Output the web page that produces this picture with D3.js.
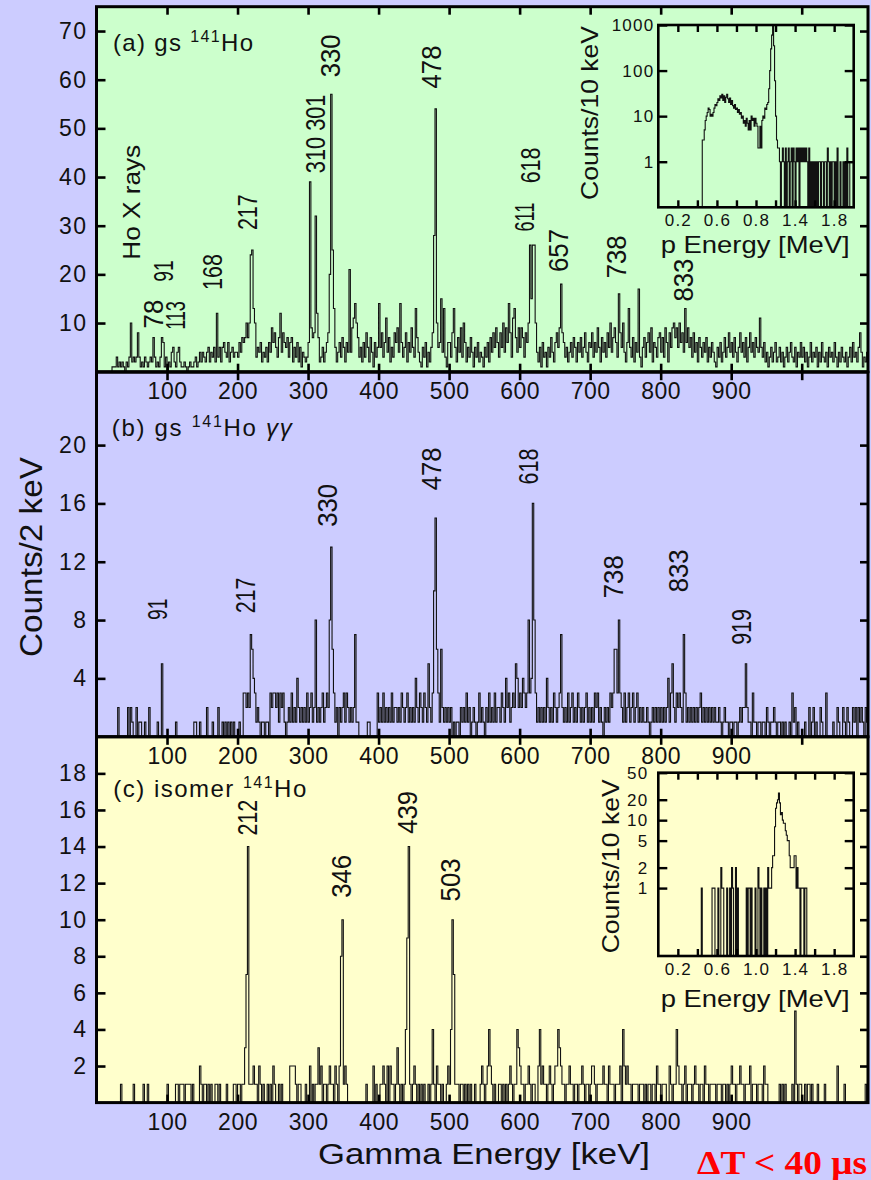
<!DOCTYPE html>
<html>
<head>
<meta charset="utf-8">
<script src="https://cdn.jsdelivr.net/npm/d3@7"></script>
<style>
  html, body { margin: 0; padding: 0; background: #ccccff; }
  svg { display: block; }
</style>
</head>
<body>
<svg id="chart" width="871" height="1180"></svg>
<script>
// ---------------------------------------------------------------
// Gamma-ray spectra, 2 keV per bin starting at 0 keV
// ---------------------------------------------------------------
const countsA = [
  // 0-98 keV
  0,0,0,0,0,0,0,0,0,0, 0,1,1,1,3,1,2,1,2,1, 0,2,1,3,10,2,3,2,3,8, 3,1,2,1,3,2,1,2,3,2, 7,3,1,2,1,3,7,6,1,3,
  // 100-198 keV
  0,2,1,4,5,2,1,4,5,2, 1,1,2,1,0,1,2,1,1,2, 3,1,2,4,2,4,3,2,4,5, 2,4,3,5,2,12,3,5,2,5, 6,4,3,6,2,4,5,3,4,4,
  // 200-298 keV
  3,6,4,7,6,7,10,7,10,24, 25,13,10,3,5,4,6,2,4,3, 5,2,6,4,9,6,8,5,3,7, 12,4,8,6,5,7,3,6,7,2, 5,3,6,2,5,1,4,3,2,3,
  // 300-398 keV
  6,39,9,7,8,32,12,7,2,3, 5,2,4,6,8,20,57,25,13,5, 2,4,6,3,7,5,2,6,4,21, 4,9,11,14,10,7,3,5,2,6, 3,8,5,2,7,4,1,6,3,5,
  // 400-498 keV
  14,5,8,3,6,11,4,7,2,5, 3,8,6,9,4,14,6,3,5,8, 2,6,4,9,5,3,13,7,4,2, 1,5,3,6,1,4,2,5,8,28, 54,10,5,6,15,4,13,3,1,6,
  // 500-598 keV
  6,3,8,13,5,2,7,4,9,3, 10,6,2,5,3,7,4,1,5,3, 6,2,4,3,1,5,3,6,2,7, 4,8,5,9,6,3,8,5,10,4, 9,6,14,8,3,11,13,7,4,9,
  // 600-698 keV
  5,9,7,3,8,6,10,26,15,26, 26,10,4,2,5,1,6,3,4,1, 5,3,7,4,2,6,8,5,9,18, 8,6,3,5,2,4,6,3,7,5, 2,6,4,7,3,5,8,4,2,6,
  // 700-798 keV
  5,8,3,6,4,9,5,2,7,4, 6,3,8,5,10,4,7,9,6,3, 16,8,5,10,4,2,6,13,5,3, 7,2,6,4,17,3,1,5,7,3, 6,8,4,9,2,6,5,3,7,8,
  // 800-898 keV
  4,7,3,9,6,2,8,5,9,10, 7,9,5,10,6,8,4,13,6,9, 5,7,3,8,4,6,2,7,5,3, 6,4,7,2,5,3,6,4,2,1, 5,3,6,2,4,7,3,5,8,4,
  // 900-998 keV
  6,3,7,4,2,5,8,4,6,3, 7,2,5,8,4,6,3,7,5,4, 11,5,3,6,2,4,1,3,5,2, 4,6,2,3,5,2,4,1,3,5, 2,4,6,3,2,5,1,4,3,6,
  // 1000-1092 keV
  3,5,2,4,1,3,6,2,4,3, 5,1,4,2,6,3,2,4,1,5, 3,4,2,6,3,1,4,2,5,3, 2,4,1,3,5,2,6,3,4,2, 5,8,4,1,3,2,4
];

const countsB = [
  0,0,0,0,0,0,0,0,0,0, 0,0,0,0,0,2,0,0,0,0, 0,0,2,0,2,1,0,0,2,0, 1,1,0,0,1,0,0,2,0,0, 0,0,0,1,0,0,5,0,0,0,
  0,0,0,0,0,0,1,0,0,0, 0,0,0,0,0,0,0,0,0,1, 1,0,0,1,0,0,0,0,2,0, 0,0,1,0,0,0,2,0,0,1, 0,1,0,1,0,1,0,1,0,0,
  0,1,0,0,3,3,2,3,2,7, 6,4,3,1,2,1,0,1,1,0, 1,1,0,3,2,3,3,2,3,1, 3,2,3,1,0,1,2,1,3,1, 2,1,4,2,1,2,1,2,1,3,
  1,2,3,1,2,8,1,2,1,2, 3,1,2,3,2,8,13,6,3,1, 2,0,2,1,2,3,1,3,2,1, 2,1,2,7,1,1,0,0,0,0, 0,0,1,1,0,0,0,0,0,3,
  1,2,1,3,1,2,1,2,1,3, 1,2,2,1,2,1,3,2,1,2, 3,1,2,1,2,1,4,2,1,3, 2,1,3,2,1,5,2,1,3,10, 15,6,3,1,6,2,1,2,1,2,
  1,2,0,1,0,1,1,0,2,1, 2,1,3,1,2,0,1,2,1,0, 1,3,1,2,1,0,2,1,3,1, 2,1,3,1,2,2,1,3,2,1, 4,2,3,1,2,3,2,5,4,2,
  3,2,4,3,2,3,8,3,4,16, 8,3,1,2,1,2,1,2,1,4, 2,1,2,1,3,2,1,2,3,7, 2,1,2,1,3,1,2,3,1,2, 1,3,2,1,2,1,2,3,1,2,
  1,2,1,3,2,3,1,2,1,0, 2,1,2,1,3,2,3,6,6,3, 8,3,2,1,3,1,2,3,1,2, 3,1,2,3,1,2,1,2,1,1, 2,1,0,1,2,1,2,1,2,1,
  2,1,2,1,2,4,1,3,5,2, 1,3,2,3,2,1,7,3,1,2, 1,2,1,2,1,2,1,2,3,1, 2,1,2,1,2,1,2,1,2,1, 1,2,1,0,1,2,1,1,0,1,
  1,0,1,1,0,1,2,1,2,2, 5,2,1,1,0,3,1,1,0,1, 1,0,1,1,0,2,1,0,1,1, 2,1,0,1,1,0,1,0,1,0, 0,1,0,3,1,2,0,1,0,0,
  0,0,1,0,0,2,0,1,2,0, 1,0,0,2,1,0,0,3,0,0, 0,0,1,0,0,2,1,0,0,2, 1,0,2,1,0,0,2,1,2,0, 2,1,2,1,0,2,1
];

const countsC = [
  0,0,0,0,0,0,0,0,0,0, 0,0,0,0,0,0,0,1,0,0, 0,0,0,0,0,0,1,0,0,0, 0,0,0,1,0,0,1,0,0,0, 0,0,0,0,0,0,0,0,0,0,
  1,0,0,0,0,0,1,1,0,1, 1,1,0,1,1,1,1,0,1,0, 0,0,0,2,1,0,1,1,0,1, 0,1,0,0,1,1,0,1,0,0, 0,0,1,0,0,0,0,1,1,0,
  1,1,0,1,1,3,7,14,1,1, 1,2,1,1,0,2,1,0,1,0, 0,1,0,1,0,2,1,0,0,1, 0,1,0,0,0,0,0,2,2,2, 2,1,0,1,1,0,0,0,1,0,
  0,2,0,1,0,1,1,3,1,2, 0,1,1,0,1,2,1,1,0,2, 1,0,2,8,10,1,2,1,0,0, 0,0,0,0,0,0,0,0,0,0, 0,1,0,0,0,0,2,0,1,0,
  0,1,1,2,1,0,2,0,2,1, 1,0,1,3,1,0,1,0,1,4, 9,14,1,0,1,2,1,0,1,0, 1,0,1,0,0,1,0,1,4,1, 0,2,1,1,0,1,0,0,1,2,
  1,4,10,7,1,1,1,0,1,1, 0,1,0,1,0,1,0,0,1,0, 0,0,1,2,1,0,1,2,4,2, 1,0,1,0,0,1,1,0,1,0, 1,0,1,2,1,0,1,1,4,3,
  2,1,1,0,1,1,2,1,0,1, 1,0,0,2,4,1,2,1,1,0, 1,2,1,0,1,2,2,4,3,2, 1,1,0,1,1,2,1,1,0,1, 1,0,1,1,2,1,0,1,1,0,
  1,2,2,1,0,1,1,1,1,2, 1,1,0,2,1,1,1,0,1,1, 1,2,0,4,2,1,2,1,1,0, 1,1,1,1,0,1,1,1,0,1, 0,1,1,0,1,1,0,2,1,1,
  0,1,1,1,0,0,2,1,0,1, 1,4,2,1,1,0,1,2,0,1, 1,1,0,1,2,1,1,0,1,1, 0,2,1,1,0,1,1,1,1,0, 1,1,1,0,1,1,0,1,0,1,
  2,1,1,0,1,1,2,1,1,0, 1,1,1,2,0,1,1,1,0,1, 1,1,0,2,1,1,0,0,0,0, 0,0,0,0,1,0,1,0,1,0, 0,0,0,1,0,5,1,0,1,1,
  0,0,1,0,1,1,0,1,0,0, 0,1,0,0,0,0,1,0,0,0, 0,0,0,0,0,2,0,0,0,0, 1,0,0,0,0,0,0,0,0,0, 0,0,0,0,0,1,0
];

// Proton spectra, 10 keV per bin starting at 0.40 MeV
const protonGs = [
  0,0,0,0,0, 3,3,5,8,10, 12,15,14,10,11, 10,12,15,18,17, 20,24,22,28,25, 30,22,28,20,26,
  30,24,20,25,18, 22,17,15,18,14, 15,12,14,11,12, 9,10,7,8,6, 9,7,5,8,5, 10,8,9,6,9,
  7,6,2,2,6, 2,8,10,9,15, 14,18,20,40,100, 300,600,1000,350,60, 10,3,2,2,1, 0,1,2,1,0,
  2,0,1,2,0, 1,2,0,2,1, 0,2,1,2,0, 2,1,2,1,2, 1,2,1,0,2, 0,1,0,1,0, 1,0,1,0,1, 1,0,1,1,0,
  1,1,0,2,1, 0,1,0,1,1, 0,1,0,2,0, 0,1,0,0,1, 0,1,0,2,0, 0,1,1,1,1
];
const protonIsomer = [
  0,0,0,0,1, 0,0,0,0,0, 0,0,0,0,0, 1,1,1,0,0, 0,1,0,0,2, 1,1,0,0,0,
  1,0,0,1,0, 2,1,0,0,2, 0,1,0,0,0, 0,0,0,0,0, 1,0,1,1,0, 1,0,0,0,1,
  0,0,2,1,0, 1,0,0,1,0, 1,0,2,1,1, 1,2,3,3,8, 15,18,20,25,18, 12,13,10,9,9,
  7,6,5,5,3, 2,2,2,2,3, 3,1,2,1,1, 0,1,1,1,0, 1,1,0,0,0, 0,0,0,0,0, 0,0,0,0,0, 0,0,0,0,0,
  0,0,0,0,0, 0,0,0,0,0, 0,0,0,0,0, 0,0,0,0,0, 0,0,0,0,0, 0,0,0,0,0
];

const gammaTicks = [100, 200, 300, 400, 500, 600, 700, 800, 900, 1000];
const gammaTickLabels = ["100", "200", "300", "400", "500", "600", "700", "800", "900", ""];
const ticksA = [10, 20, 30, 40, 50, 60, 70];
const ticksB = [4, 8, 12, 16, 20];
const ticksC = [2, 4, 6, 8, 10, 12, 14, 16, 18];
const protonTicks = [0.2, 0.4, 0.6, 0.8, 1.0, 1.2, 1.4, 1.6, 1.8];
const protonTickLabelsGs = {0.2: "0.2", 0.6: "0.6", 1.0: "0.8", 1.4: "1.4", 1.8: "1.8"};
const protonTickLabelsIso = {0.2: "0.2", 0.6: "0.6", 1.0: "1.0", 1.4: "1.4", 1.8: "1.8"};
const logTicksGs = [1, 10, 100, 1000];
const logTicksIso = [1, 2, 5, 10, 20, 50];

// Peak annotations: energy (keV) and height (counts) where the rotated text starts
const peaksA = [
  {t: "Ho X rays", e: 61.6, c: 23.0},
  {t: "78", e: 94.7, c: 8.9}, {t: "113", e: 125.4, c: 8.6}, {t: "91", e: 108.8, c: 18.5},
  {t: "168", e: 177.4, c: 16.8}, {t: "217", e: 227, c: 29.1}, {t: "310 301", e: 323.8, c: 40.8},
  {t: "330", e: 345, c: 60.5}, {t: "478", e: 489.2, c: 58.2}, {t: "618", e: 628.5, c: 38.7},
  {t: "611", e: 620, c: 28.8}, {t: "657", e: 668.6, c: 20.5}, {t: "738", e: 751.3, c: 19.2},
  {t: "833", e: 845.7, c: 14.4}
];
const peaksB = [
  {t: "91", e: 99.5, c: 8.0}, {t: "217", e: 224.6, c: 8.46}, {t: "330", e: 340.4, c: 14.4},
  {t: "478", e: 487.8, c: 16.9}, {t: "618", e: 626, c: 17.3}, {t: "738", e: 746.5, c: 9.5},
  {t: "833", e: 838.6, c: 9.9}, {t: "919", e: 928.5, c: 6.3}
];
const peaksC = [
  {t: "212", e: 227, c: 14.6}, {t: "346", e: 360.2, c: 11.2},
  {t: "439", e: 453.8, c: 14.7}, {t: "503", e: 515.1, c: 11.0}
];

// ---------------------------------------------------------------
const FONT = "'Liberation Sans', Arial, sans-serif";
const svg = d3.select("#chart");
const left = 96.5, right = 868;
const x = d3.scaleLinear().domain([0, 1094]).range([left, right]);

// advance width of a peak label; the plotting font has a narrow "1"
function labelLength(t, digit, one, other) {
  let L = 0;
  for (const ch of t) {
    if (ch === "1") L += one;
    else if (/[0-9]/.test(ch)) L += digit;
    else if (ch === " ") L += other * 0.5;
    else L += other;
  }
  return L;
}

const panels = [
  {counts: countsA, top: 6.7, bottom: 371.7, max: 75, ticks: ticksA, fill: "#ccffcc", peaks: peaksA},
  {counts: countsB, top: 372.2, bottom: 736.7, max: 25, ticks: ticksB, fill: "#ccccff", peaks: peaksB},
  {counts: countsC, top: 736.8, bottom: 1102.6, max: 20, ticks: ticksC, fill: "#ffffcc", peaks: peaksC}
];

// backgrounds first so that tick labels of one panel sit on the next
panels.forEach(p => {
  svg.append("rect").attr("x", left).attr("y", p.top)
    .attr("width", right - left).attr("height", p.bottom - p.top)
    .attr("fill", p.fill);
});

panels.forEach(p => {
  const y = d3.scaleLinear().domain([0, p.max]).range([p.bottom, p.top]);
  const pts = p.counts.map((c, i) => [i * 2, c]);
  pts.push([p.counts.length * 2, p.counts[p.counts.length - 1]]);
  const line = d3.line().x(d => x(d[0])).y(d => y(d[1])).curve(d3.curveStepAfter);
  svg.append("path").datum(pts).attr("d", line)
    .attr("fill", "none").attr("stroke", "#111").attr("stroke-width", 1.1);

  // axes
  const gl = svg.append("g").attr("transform", `translate(${left},0)`)
    .call(d3.axisLeft(y).tickValues(p.ticks).tickSize(-9).tickPadding(9).tickFormat(d3.format("d")));
  const gr = svg.append("g").attr("transform", `translate(${right},0)`)
    .call(d3.axisRight(y).tickValues(p.ticks).tickSize(-8).tickFormat(""));
  const gb = svg.append("g").attr("transform", `translate(0,${p.bottom})`)
    .call(d3.axisBottom(x).tickValues(gammaTicks).tickSize(-8).tickPadding(11)
      .tickFormat((d, i) => gammaTickLabels[i]));
  const gt = svg.append("g").attr("transform", `translate(0,${p.top})`)
    .call(d3.axisTop(x).tickValues(gammaTicks).tickSize(-8).tickFormat(""));
  [gl, gr, gb, gt].forEach(g => {
    g.select(".domain").remove();
    g.selectAll(".tick line").attr("stroke", "#000").attr("stroke-width", 2.6);
    g.selectAll("text").attr("font-family", FONT).attr("font-size", 23).attr("fill", "#111");
  });
  gl.selectAll("text").attr("letter-spacing", 1.5);
  gb.selectAll("text").attr("letter-spacing", 0.5);

  // frame
  svg.append("rect").attr("x", left).attr("y", p.top)
    .attr("width", right - left).attr("height", p.bottom - p.top)
    .attr("fill", "none").attr("stroke", "#000").attr("stroke-width", 3);

  // peak labels, rotated
  p.peaks.forEach(pk => {
    const isText = /[a-z]/i.test(pk.t);
    svg.append("text")
      .attr("transform", `translate(${x(pk.e)},${y(pk.c)}) rotate(-90)`)
      .attr("font-family", FONT).attr("font-size", isText ? 24 : 27).attr("fill", "#111")
      .attr("textLength", isText ? 115 : labelLength(pk.t, 14.3, 7.2, 14))
      .attr("lengthAdjust", "spacingAndGlyphs")
      .text(pk.t);
  });
});

// panel titles
function title(xp, yp, width, before, after, extra) {
  const t = svg.append("text").attr("x", xp).attr("y", yp)
    .attr("font-family", FONT).attr("font-size", 24).attr("fill", "#111")
    .attr("textLength", width).attr("lengthAdjust", "spacing");
  t.append("tspan").text(before);
  t.append("tspan").attr("font-size", 16).attr("dy", -9).text("141");
  t.append("tspan").attr("dy", 9).text(after);
  if (extra) t.append("tspan").attr("font-style", "italic").text(extra);
  return t;
}
title(113, 50.7, 140, "(a) gs ", "Ho");
title(111.7, 436, 180, "(b) gs ", "Ho ", "γγ");
title(113.3, 796.7, 193, "(c) isomer ", "Ho");

// axis titles
svg.append("text").attr("transform", "translate(41.7,657) rotate(-90)")
  .attr("font-family", FONT).attr("font-size", 32).attr("fill", "#111")
  .attr("textLength", 200).attr("lengthAdjust", "spacingAndGlyphs")
  .text("Counts/2 keV");
svg.append("text").attr("x", 318).attr("y", 1164)
  .attr("font-family", FONT).attr("font-size", 30).attr("fill", "#111")
  .attr("textLength", 332).attr("lengthAdjust", "spacingAndGlyphs")
  .text("Gamma Energy [keV]");
svg.append("text").attr("x", 697).attr("y", 1173.5)
  .attr("font-family", "'Liberation Serif', 'Times New Roman', serif")
  .attr("font-weight", "bold").attr("font-size", 34).attr("fill", "#ff0000")
  .attr("textLength", 170).attr("lengthAdjust", "spacingAndGlyphs")
  .text("ΔT < 40 μs");

// ---------------------------------------------------------------
// proton energy insets (log scale)
// ---------------------------------------------------------------
function inset(cfg) {
  const xi = d3.scaleLinear().domain([0, 2]).range([658.3, 853.7]);
  const yi = d3.scaleLog().domain([0.1, cfg.max]).range([cfg.bottom, cfg.top]).clamp(true);
  svg.append("rect").attr("x", 658.3).attr("y", cfg.top)
    .attr("width", 853.7 - 658.3).attr("height", cfg.bottom - cfg.top).attr("fill", cfg.fill);
  const pts = cfg.counts.map((c, i) => [0.40 + i * 0.01, c > 0 ? c : 0.1]);
  pts.push([0.40 + cfg.counts.length * 0.01, 0.1]);
  const line = d3.line().x(d => xi(d[0])).y(d => yi(d[1])).curve(d3.curveStepAfter);
  svg.append("path").datum(pts).attr("d", line)
    .attr("fill", "none").attr("stroke", "#111").attr("stroke-width", 1.1);

  const gb = svg.append("g").attr("transform", `translate(0,${cfg.bottom})`)
    .call(d3.axisBottom(xi).tickValues(protonTicks).tickSize(-7).tickPadding(7)
      .tickFormat(d => cfg.xlabels[Math.round(d * 10) / 10] || ""));
  const gt = svg.append("g").attr("transform", `translate(0,${cfg.top})`)
    .call(d3.axisTop(xi).tickValues(protonTicks).tickSize(-7).tickFormat(""));
  const gl = svg.append("g").attr("transform", "translate(658.3,0)")
    .call(d3.axisLeft(yi).tickValues(cfg.yticks).tickSize(-9).tickPadding(cfg.ypad).tickFormat(d3.format("d")));
  const gr = svg.append("g").attr("transform", "translate(853.7,0)")
    .call(d3.axisRight(yi).tickValues(cfg.yticks).tickSize(-9).tickFormat(""));
  [gb, gt, gl, gr].forEach(g => {
    g.select(".domain").remove();
    g.selectAll(".tick line").attr("stroke", "#000").attr("stroke-width", 2.4);
    g.selectAll("text").attr("font-family", FONT).attr("font-size", 17)
      .attr("letter-spacing", 1.2).attr("fill", "#111");
  });
  svg.append("rect").attr("x", 658.3).attr("y", cfg.top)
    .attr("width", 853.7 - 658.3).attr("height", cfg.bottom - cfg.top)
    .attr("fill", "none").attr("stroke", "#000").attr("stroke-width", 2.6);

  svg.append("text").attr("transform", `translate(${cfg.ylabX},${cfg.ylabY}) rotate(-90)`)
    .attr("font-family", FONT).attr("font-size", 24).attr("fill", "#111")
    .attr("textLength", 174).attr("lengthAdjust", "spacingAndGlyphs")
    .text("Counts/10 keV");
  svg.append("text").attr("x", 660.7).attr("y", cfg.xlabY)
    .attr("font-family", FONT).attr("font-size", 24).attr("fill", "#111")
    .attr("textLength", 189).attr("lengthAdjust", "spacingAndGlyphs")
    .text("p Energy [MeV]");
}
inset({counts: protonGs, max: 1000, top: 25, bottom: 207.3, fill: "#ccffcc", ypad: 4,
  yticks: logTicksGs, xlabels: protonTickLabelsGs, ylabX: 598, ylabY: 200, xlabY: 253.3});
inset({counts: protonIsomer, max: 50, top: 772.7, bottom: 956, fill: "#ffffcc", ypad: 10,
  yticks: logTicksIso, xlabels: protonTickLabelsIso, ylabX: 619, ylabY: 953.3, xlabY: 1006.7});
</script>
</body>
</html>
